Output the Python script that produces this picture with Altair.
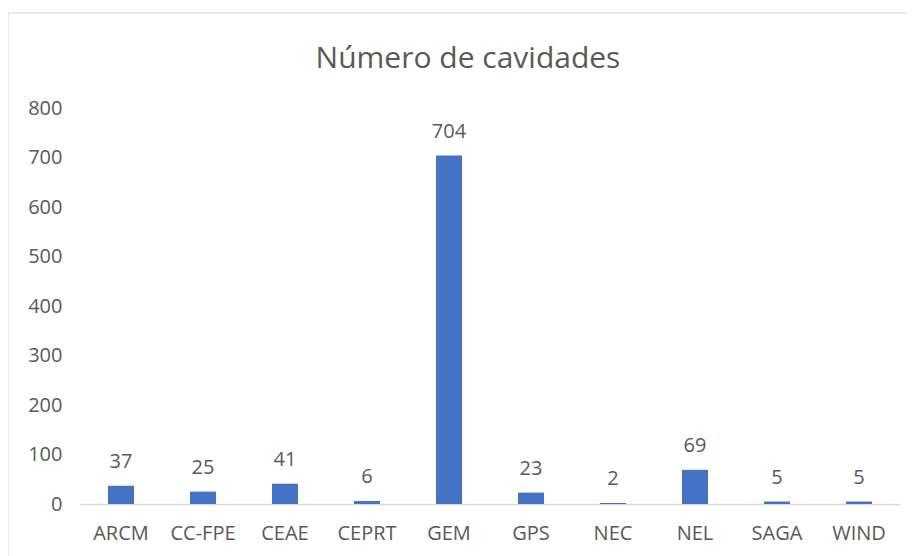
import altair as alt
import pandas as pd

categories = ["ARCM", "CC-FPE", "CEAE", "CEPRT", "GEM", "GPS", "NEC", "NEL", "SAGA", "WIND"]
values = [37, 25, 41, 6, 704, 23, 2, 69, 5, 5]
y_ticks = [0, 100, 200, 300, 400, 500, 600, 700, 800]

df = pd.DataFrame({"cat": categories, "val": values})

FONT = "Open Sans"
GREY = "#595959"

x = alt.X("cat:N", sort=categories, title=None,
          scale=alt.Scale(paddingInner=0.683, paddingOuter=0.3415),
          axis=alt.Axis(labelAngle=0, labelFontSize=20, labelColor=GREY, labelFont=FONT,
                        ticks=False, domainColor="#d9d9d9", domainWidth=1.5,
                        labelPadding=19))
y = alt.Y("val:Q", title=None,
          scale=alt.Scale(domain=[0, 800]),
          axis=alt.Axis(values=y_ticks, grid=False, domain=False, ticks=False,
                        labelFontSize=20, labelColor=GREY, labelFont=FONT,
                        labelPadding=18))

bars = alt.Chart(df).mark_bar(color="#4472C4").encode(x=x, y=y)
labels = alt.Chart(df).mark_text(fontSize=20, color=GREY, font=FONT, baseline="alphabetic", dy=-18).encode(
    x=alt.X("cat:N", sort=categories), y="val:Q", text="val:Q")

# light frame around the whole chart area (decoration only)
frame = alt.Chart(pd.DataFrame({"f": [0]})).mark_rect(
    fill=None, stroke="#e3e3e3", strokeWidth=1.5
).encode(x=alt.value(-72), x2=alt.value(830), y=alt.value(-95), y2=alt.value(470))

chart = (frame + bars + labels).properties(
    width=820, height=396,
    title=alt.TitleParams("Número de cavidades", fontSize=30, font=FONT, color=GREY,
                          fontWeight="normal", offset=-62, dx=-22, anchor="middle",
                          frame="group"),
    autosize=alt.AutoSizeParams(type="none"),
    padding={"left": 72, "top": 100, "right": 7, "bottom": 52},
).configure_view(stroke=None)

chart.save("out.html", embed_options={"renderer": "svg", "actions": False})
